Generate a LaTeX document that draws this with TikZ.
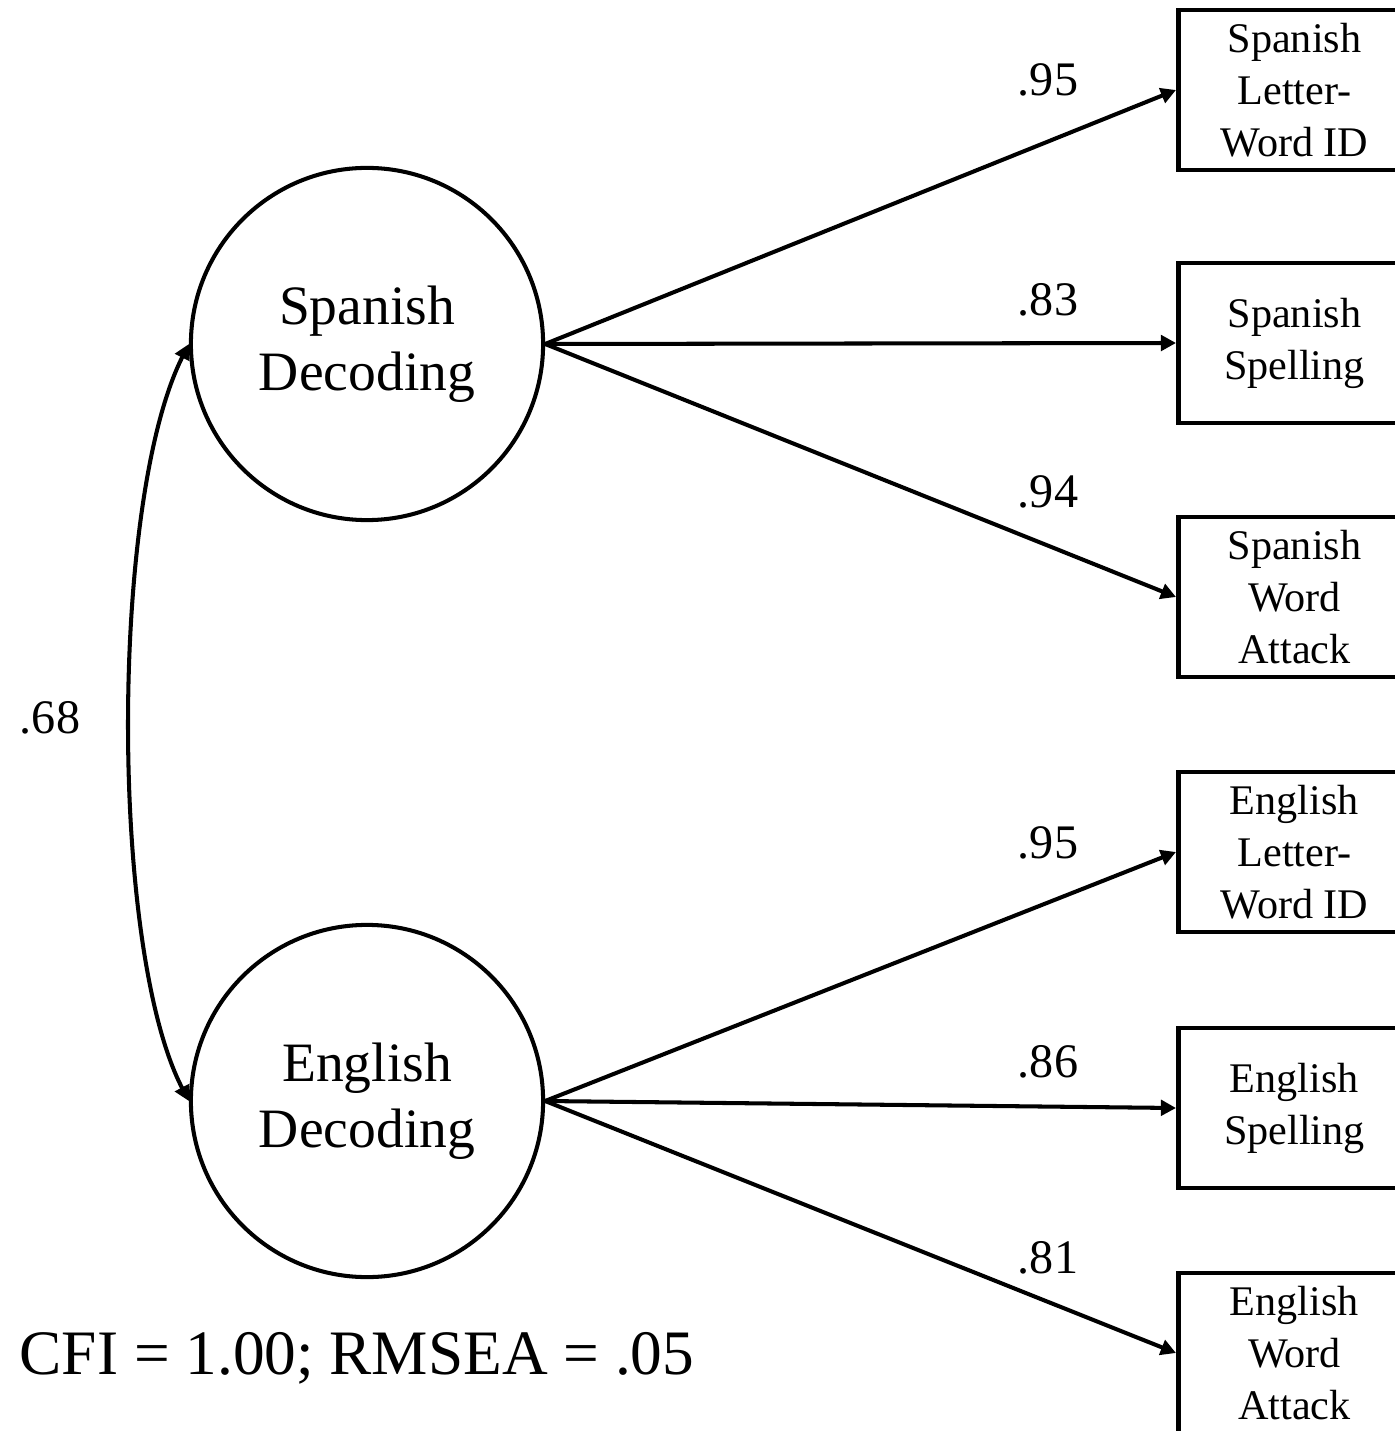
\documentclass[tikz,border=0pt]{standalone}
\usepackage{fontspec}
\setmainfont{Liberation Serif}
\usetikzlibrary{arrows.meta,calc}
\begin{document}
\begin{tikzpicture}[x=0.01cm,y=-0.01cm,
  latent/.style={circle,draw,line width=1.15pt,minimum size=3.52cm,inner sep=0pt,
    align=center,font=\fontsize{15.8}{18.8}\selectfont},
  indicator/.style={rectangle,draw,line width=1.35pt,minimum width=2.32cm,minimum height=1.6cm,
    inner sep=0pt,anchor=west,align=center,font=\fontsize{12}{14.8}\selectfont},
  load/.style={-{Triangle[length=4.3pt,width=4.4pt]},line width=1.15pt},
  lbl/.style={font=\fontsize{13.7}{16}\selectfont,inner sep=0pt},
  fitnote/.style={font=\fontsize{18}{21}\selectfont,inner sep=0pt}]
\path[use as bounding box] (0,0) rectangle (1395,1431);
\clip (0,0) rectangle (1395,1431);

% latent factors
\node[latent] (sd) at (367,344) {Spanish\\Decoding};
\node[latent] (ed) at (367,1101) {English\\Decoding};

% observed indicators
\node[indicator] (s1) at (1176,90)   {Spanish\\Letter-\\Word ID};
\node[indicator] (s2) at (1176,343)  {Spanish\\Spelling};
\node[indicator] (s3) at (1176,597)  {Spanish\\Word\\Attack};
\node[indicator] (e1) at (1176,852)  {English\\Letter-\\Word ID};
\node[indicator] (e2) at (1176,1108) {English\\Spelling};
\node[indicator] (e3) at (1176,1353) {English\\Word\\Attack};

% factor loadings
\draw[load] (sd.east) -- (s1.west);
\draw[load] (sd.east) -- (s2.west);
\draw[load] (sd.east) -- (s3.west);
\draw[load] (ed.east) -- (e1.west);
\draw[load] (ed.east) -- (e2.west);
\draw[load] (ed.east) -- (e3.west);

\node[lbl] (l1) at (1048,80)   {.95};
\node[lbl] (l2) at (1048,300)  {.83};
\node[lbl] (l3) at (1048,492)  {.94};
\node[lbl] (l4) at (1048,843)  {.95};
\node[lbl] (l5) at (1048,1062) {.86};
\node[lbl] (l6) at (1048,1258) {.81};

% factor correlation
\draw[{Triangle[length=4.3pt,width=4.4pt]}-{Triangle[length=4.3pt,width=4.4pt]},line width=1.15pt]
  (sd.west) .. controls ($(sd.west)+(-79,157)$) and ($(ed.west)+(-79,-152)$) .. (ed.west);
\node[lbl] (r) at (50,718) {.68};

% model fit
\node[fitnote] (fit) at (357,1358) {CFI = 1.00; RMSEA = .05};
\end{tikzpicture}
\end{document}
